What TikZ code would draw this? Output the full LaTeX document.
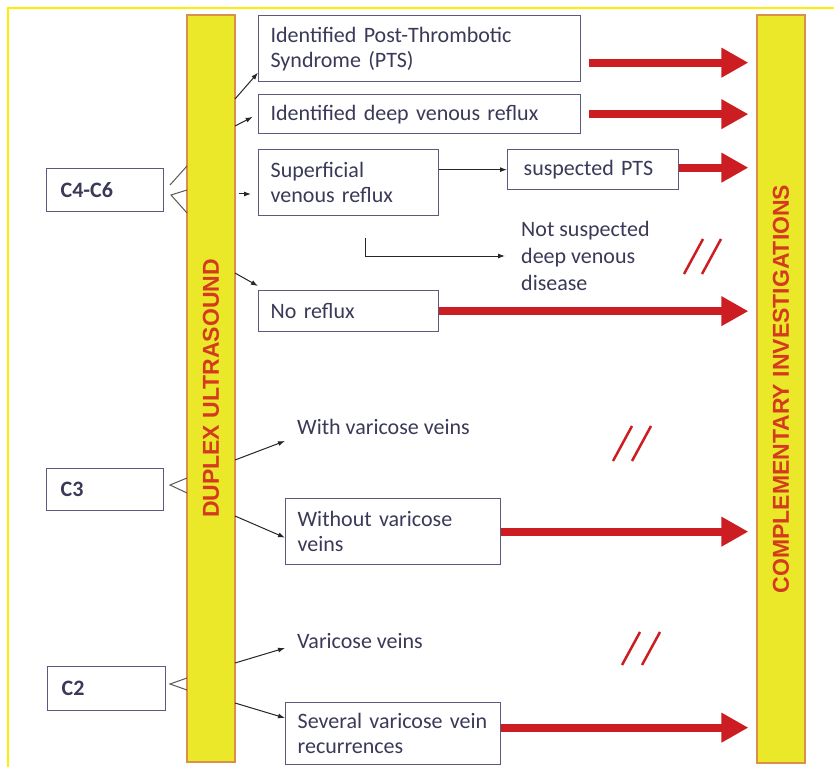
\documentclass[tikz,border=0pt]{standalone}
\usepackage{fontspec}
\setmainfont{Carlito}
\newfontfamily\barfont{Liberation Sans}
\usetikzlibrary{arrows.meta,calc}
\definecolor{framey}{HTML}{FFEE00}
\definecolor{bary}{HTML}{EBE82A}
\definecolor{barborder}{HTML}{D8904A}
\definecolor{bartext}{HTML}{D43A1E}
\definecolor{redarrow}{HTML}{CC1E22}
\definecolor{boxline}{HTML}{5A5A7C}
\definecolor{txt}{HTML}{3A3A58}
\begin{document}
\begin{tikzpicture}[x=1pt,y=-1pt,
  bar/.style={draw=barborder, line width=1.2pt, fill=bary, rotate=90,
    minimum height=48pt, inner sep=0pt, text=bartext,
    font=\barfont\bfseries\fontsize{23}{26}\selectfont},
  box/.style={draw=boxline, line width=1.3pt, fill=white, anchor=north west,
    align=left, inner xsep=12pt, inner ysep=0pt, text=txt,
    font=\fontsize{22}{25}\selectfont},
  cbox/.style={box, inner xsep=14pt, font=\bfseries\fontsize{22}{25}\selectfont},
  lbl/.style={anchor=west, inner sep=0pt, align=left, text=txt,
    font=\fontsize{22}{27}\selectfont},
  conn/.style={draw=black!85, line width=1pt, -{Latex[length=7pt,width=5pt]}},
  fan/.style={draw=black!65, line width=1pt},
  redarr/.style={draw=redarrow, line width=8pt, -{Triangle[length=27pt,width=28pt]}, shorten >=8pt},
  slash/.style={draw=redarrow, line width=2.5pt}
]
\useasboundingbox (0,0) rectangle (834,767);
\fill[white] (0,0) rectangle (834,767);
% frame
\draw[framey, line width=2.5pt] (8,767) -- (8,8) -- (834,8);

% bars
\node[bar, minimum width=747pt] (lbar) at (211,388.5) {DUPLEX ULTRASOUND};
\node[bar, minimum width=748pt] (rbar) at (781,389) {COMPLEMENTARY INVESTIGATIONS};

% C boxes
\node[cbox, minimum width=117pt, minimum height=43pt, text width=89pt] (c46) at (46,168) {C4-C6};
\node[cbox, minimum width=117pt, minimum height=42pt, text width=89pt] (c3) at (46,468) {C3};
\node[cbox, minimum width=118pt, minimum height=44pt, text width=90pt] (c2) at (47,666) {C2};

% result boxes
\node[box, minimum width=322pt, minimum height=66pt, text width=298pt] (b1) at (258,15) {Identified Post-Thrombotic\\Syndrome (PTS)};
\node[box, minimum width=322pt, minimum height=39pt, text width=298pt] (b2) at (258,94) {Identified deep venous reflux};
\node[box, minimum width=180pt, minimum height=66pt, text width=156pt] (sup) at (258,149) {Superficial\\venous reflux};
\node[box, inner xsep=16pt, minimum width=171pt, minimum height=40pt, text width=139pt] (spts) at (507,149) {suspected PTS};
\node[box, minimum width=180pt, minimum height=41pt, text width=156pt] (nor) at (258,290) {No reflux};
\node[box, minimum width=215pt, minimum height=66pt, text width=191pt] (wov) at (285,498) {Without varicose\\veins};
\node[box, minimum width=215pt, minimum height=62pt, text width=191pt] (sev) at (285,702) {Several varicose vein\\recurrences};

% plain labels
\node[lbl, inner xsep=16pt] (nsd) at (505,256) {Not suspected\\deep venous\\disease};
\node[lbl] (wv) at (297,427) {With varicose veins};
\node[lbl] (vv) at (297,641) {Varicose veins};

% fan lines from C boxes to bar
\draw[fan] (170,185) -- (187,166);
\draw[fan] (187,190) -- (171,195) -- (187,213);
\draw[fan] (187,478) -- (170,485) -- (187,493);
\draw[fan] (187,678) -- (170,684) -- (187,690);

% black connectors from bar
\coordinate (s1) at (235,99);
\coordinate (s2) at (235,126);
\coordinate (s3) at (239,194);
\coordinate (s4) at (235,273);
\coordinate (s5) at (235,460);
\coordinate (s6) at (235,516);
\coordinate (s7) at (235,663);
\coordinate (s8) at (235,703);
\coordinate (lst) at (365,238);
\draw[conn] (s1) -- ([yshift=-24pt]b1.west);
\draw[conn, shorten >=6pt] (s2) -- (b2.west);
\draw[conn, shorten >=7pt] (s3) -- (s3 -| sup.west);
\draw[conn] (s4) -- ([yshift=4pt]nor.north west);
\draw[conn] (s5) -- ([xshift=-12pt,yshift=-14pt]wv.west);
\draw[conn] (s6) -- ([yshift=-6pt]wov.west);
\draw[conn] (s7) -- ([xshift=-12pt,yshift=-7pt]vv.west);
\draw[conn] (s8) -- ([yshift=-16pt]sev.north west);
\draw[conn] (sup.east |- spts.west) -- (spts.west);
\draw[conn] (lst) |- (nsd.west);

% red arrows
\coordinate (r1) at ([yshift=-14pt]b1.east);
\coordinate (r3) at ([yshift=2pt]spts.east);
\coordinate (r6) at ([yshift=6pt]sev.east);
\draw[redarr, shorten <=8pt] (r1) -- (r1 -| rbar.north);
\draw[redarr, shorten <=8pt] (b2.east) -- (b2.east -| rbar.north);
\draw[redarr] (r3) -- (r3 -| rbar.north);
\draw[redarr] (nor.east) -- (nor.east -| rbar.north);
\draw[redarr] (wov.east) -- (wov.east -| rbar.north);
\draw[redarr] (r6) -- (r6 -| rbar.north);

% slash marks
\draw[slash] (684,274) -- (703,239);
\draw[slash] (702,274) -- (721,239);
\draw[slash] (613,461) -- (632,426);
\draw[slash] (632,461) -- (651,426);
\draw[slash] (622,665) -- (640,632);
\draw[slash] (642,665) -- (660,632);
\end{tikzpicture}
\end{document}
